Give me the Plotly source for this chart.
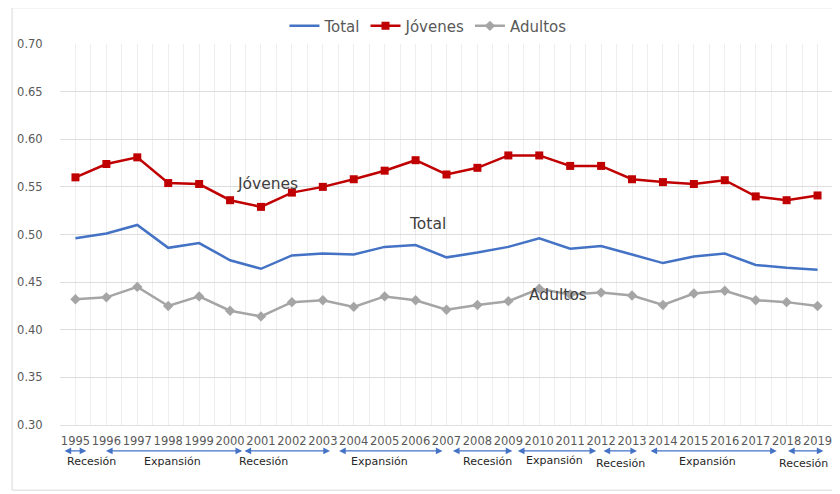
import plotly.graph_objects as go

years = list(range(1995, 2020))

total = [0.496, 0.501, 0.510, 0.486, 0.491, 0.473, 0.464, 0.478, 0.480, 0.479,
         0.487, 0.489, 0.476, 0.481, 0.487, 0.496, 0.485, 0.488, 0.479, 0.470,
         0.477, 0.480, 0.468, 0.465, 0.463]
jovenes = [0.560, 0.574, 0.581, 0.554, 0.553, 0.536, 0.529, 0.544, 0.550, 0.558,
           0.567, 0.578, 0.563, 0.570, 0.583, 0.583, 0.572, 0.572, 0.558, 0.555,
           0.553, 0.557, 0.540, 0.536, 0.541]
adultos = [0.432, 0.434, 0.445, 0.425, 0.435, 0.420, 0.414, 0.429, 0.431, 0.424,
           0.435, 0.431, 0.421, 0.426, 0.430, 0.443, 0.437, 0.439, 0.436, 0.426,
           0.438, 0.441, 0.431, 0.429, 0.425]

phase_names = ["Recesión", "Expansión", "Recesión", "Expansión", "Recesión",
               "Expansión", "Recesión", "Expansión", "Recesión"]

# arrow spans along the x axis (start, end), label x and small vertical text offsets (px)
phase_spans = [(1994.6, 1995.35), (1995.94, 2000.39), (2000.42, 2003.23),
               (2003.48, 2006.87), (2007.16, 2009.13), (2009.26, 2011.84),
               (2012.03, 2013.16), (2013.55, 2017.68), (2018.0, 2019.19)]
phase_text_x = [1995.52, 1998.13, 2001.07, 2004.84, 2008.32, 2010.48,
                2012.64, 2015.45, 2018.55]
phase_text_dy = [0, 0, 0, 0, 0, -1.5, 2, 0, 2]

BLUE = "#4472C4"
RED = "#C00000"
GRAY = "#A5A5A5"
TXT = "#595959"
FONT = "DejaVu Sans"

fig = go.Figure()
fig.add_trace(go.Scatter(x=years, y=total, name="Total", mode="lines",
                         line=dict(color=BLUE, width=2.5)))
fig.add_trace(go.Scatter(x=years, y=jovenes, name="Jóvenes", mode="lines+markers",
                         line=dict(color=RED, width=2.5),
                         marker=dict(symbol="square", size=8, color=RED)))
fig.add_trace(go.Scatter(x=years, y=adultos, name="Adultos", mode="lines+markers",
                         line=dict(color=GRAY, width=2.5),
                         marker=dict(symbol="diamond", size=8, color=GRAY)))

# labels inside the plot
for txt, xv, yv in [("Jóvenes", 2001.2, 0.5527), ("Total", 2006.4, 0.511),
                    ("Adultos", 2010.6, 0.4364)]:
    fig.add_annotation(x=xv, y=yv, text=txt, showarrow=False,
                       font=dict(family=FONT, size=15.5, color="#404040"))

# phase arrows and labels under the axis
arrow_y = -0.068
text_y = -0.097
for name, (x0, x1), tx, dy in zip(phase_names, phase_spans, phase_text_x, phase_text_dy):
    fig.add_annotation(x=x1, y=arrow_y, xref="x", yref="paper",
                       ax=x0, ay=0, axref="x", ayref="pixel",
                       text="", showarrow=True, arrowside="end+start",
                       arrowhead=2, arrowsize=1.1, arrowwidth=1.2, arrowcolor=BLUE)
    fig.add_annotation(x=tx, y=text_y, yshift=-dy, xref="x", yref="paper",
                       yanchor="middle", text=name, showarrow=False,
                       font=dict(family=FONT, size=11, color="#262626"))

# chart frame
fig.add_shape(type="rect", xref="paper", yref="paper",
              x0=-0.062, x1=1.02, y0=-0.171, y1=1.095,
              line=dict(color="#D9D9D9", width=1))

# page body has an 8px margin, so the figure is drawn 8px smaller and offset
fig.update_layout(
    width=832, height=486,
    margin=dict(l=52, r=7, t=36, b=69, autoexpand=False),
    paper_bgcolor="white", plot_bgcolor="white",
    font=dict(family=FONT, color=TXT),
    showlegend=True,
    legend=dict(orientation="h", x=0.476, xanchor="center", y=1.047, yanchor="middle",
                font=dict(family=FONT, size=15, color=TXT), itemwidth=30, tracegroupgap=0),
)
fig.update_xaxes(range=[1994.5, 2019.5], tickmode="linear", tick0=1995, dtick=1,
                 tickangle=0,
                 showgrid=True, gridcolor="#EEEEEE", gridwidth=1,
                 minor=dict(dtick=0.5, tick0=1994.5, showgrid=True, gridcolor="#EEEEEE"),
                 ticks="outside", ticklen=5, tickcolor="rgba(0,0,0,0)",
                 tickfont=dict(family=FONT, size=11.5, color=TXT), zeroline=False,
                 showline=True, linecolor="#E0E0E0")
fig.update_yaxes(range=[0.30, 0.70], dtick=0.05, tickformat=".2f",
                 showgrid=True, gridcolor="#DDDDDD", gridwidth=1.2,
                 ticks="outside", ticklen=14, tickcolor="rgba(0,0,0,0)",
                 tickfont=dict(family=FONT, size=11.5, color=TXT), zeroline=False)

fig.write_html("out.html")
